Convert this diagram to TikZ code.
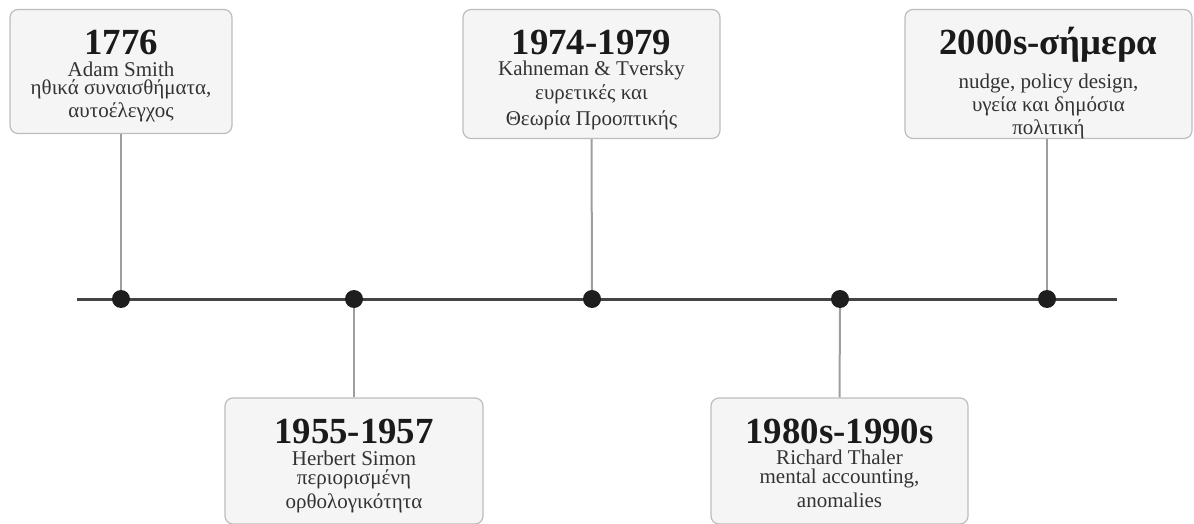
\documentclass[tikz,border=0pt]{standalone}
\usepackage{fontspec}
\setmainfont{Liberation Serif}
\begin{document}
\begin{tikzpicture}[x=1pt,y=-1pt,
  box/.style={draw=boxline, fill=boxfill, rounded corners=8pt, line width=1.2pt, inner sep=0pt},
  ttl/.style={anchor=base, text=titlecol, font=\fontsize{36.8}{40}\selectfont\bfseries, inner sep=0pt},
  txt/.style={anchor=base, text=bodycol, font=\fontsize{21}{24}\selectfont, inner sep=0pt},
  dot/.style={circle, fill=dotcol, inner sep=0pt, minimum size=18pt},
  conn/.style={draw=conncol, line width=2pt},
  axis/.style={draw=axiscol, line width=3pt}]
\definecolor{boxline}{HTML}{BDBDBD}
\definecolor{boxfill}{HTML}{F5F5F5}
\definecolor{titlecol}{HTML}{1A1A1A}
\definecolor{bodycol}{HTML}{333333}
\definecolor{dotcol}{HTML}{1E1E1E}
\definecolor{conncol}{HTML}{9E9E9E}
\definecolor{axiscol}{HTML}{444444}
\useasboundingbox (0,0) rectangle (1194,524);
% timeline
\coordinate (tl) at (77,299);
\coordinate (tr) at (1117,299);
\draw[axis] (tl) -- (tr);
% boxes
\node[box, minimum width=222pt, minimum height=124pt] (b1) at (121,71.5) {};
\node[box, minimum width=257pt, minimum height=129pt] (b3) at (591.5,74) {};
\node[box, minimum width=287pt, minimum height=129pt] (b5) at (1048.5,74) {};
\node[box, minimum width=258pt, minimum height=126pt] (b2) at (354,461) {};
\node[box, minimum width=257pt, minimum height=126pt] (b4) at (839.5,461) {};
% dots
\node[dot] (d1) at (121,299) {};
\node[dot] (d2) at (354,299) {};
\node[dot] (d3) at (592,299) {};
\node[dot] (d4) at (840,299) {};
\node[dot] (d5) at (1047,299) {};
% connectors
\draw[conn] (b1.south) -- (d1.north);
\draw[conn] (b3.south) -- (d3.north);
\draw[conn] (b5.south -| d5) -- (d5.north);
\draw[conn] (d2.south) -- (b2.north);
\draw[conn] (d4.south) -- (b4.north);
% texts box 1
\node[ttl] (t1) at (121,55) {1776};
\node[txt] (t1a) at (121,76.5) {Adam Smith};
\node[txt] (t1b) at (121,95) {ηθικά συναισθήματα,};
\node[txt] (t1c) at (121,118) {αυτοέλεγχος};
% box 3
\node[ttl] (t3) at (591.5,55) {1974-1979};
\node[txt] (t3a) at (591.5,75.5) {Kahneman \& Tversky};
\node[txt] (t3b) at (591.5,100) {ευρετικές και};
\node[txt] (t3c) at (591.5,126) {Θεωρία Προοπτικής};
% box 5
\node[ttl] (t5) at (1048.5,55) {2000s-σήμερα};
\node[txt] (t5a) at (1048.5,89) {nudge, policy design,};
\node[txt] (t5b) at (1048.5,112) {υγεία και δημόσια};
\node[txt] (t5c) at (1048.5,135) {πολιτική};
% box 2
\node[ttl] (t2) at (354,443) {1955-1957};
\node[txt] (t2a) at (354,465) {Herbert Simon};
\node[txt] (t2b) at (354,484) {περιορισμένη};
\node[txt] (t2c) at (354,508) {ορθολογικότητα};
% box 4
\node[ttl] (t4) at (839.5,443) {1980s-1990s};
\node[txt] (t4a) at (839.5,464.5) {Richard Thaler};
\node[txt] (t4b) at (839.5,483) {mental accounting,};
\node[txt] (t4c) at (839.5,507) {anomalies};
\end{tikzpicture}
\end{document}
